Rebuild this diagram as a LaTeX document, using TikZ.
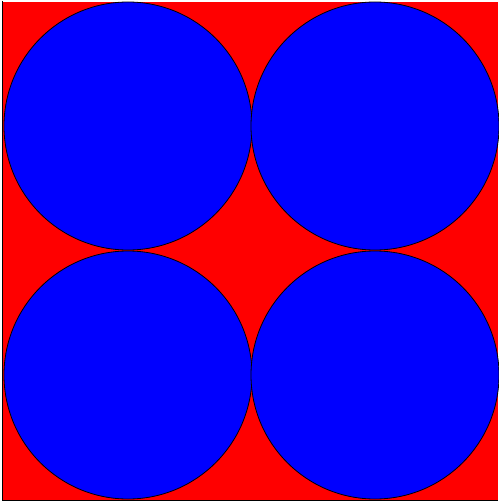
\documentclass[tikz,border=0pt]{standalone}
\begin{document}
\begin{tikzpicture}[x=1pt,y=-1pt,
  disc/.style={fill=blue,draw=black,line width=0.8pt}]
\useasboundingbox (0,0) rectangle (498,503);
\fill[white] (0,0) rectangle (498,503);
\fill[red] (2,2) rectangle (498,500.5);
\draw[black,line width=1.5pt] (2.5,1) -- (2.5,500.5) -- (498,500.5);
\draw[disc] (128,126) circle (124);
\draw[disc] (375,126) circle (124);
\draw[disc] (128,375) circle (124);
\draw[disc] (375,375) circle (124);
\end{tikzpicture}
\end{document}
